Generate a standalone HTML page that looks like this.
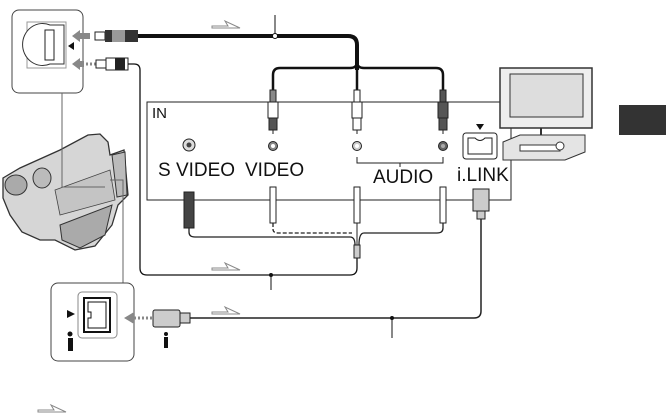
<!DOCTYPE html>
<html><head><style>
body{margin:0;background:#fff;overflow:hidden}
svg{display:block}
text{font-family:"Liberation Sans",sans-serif;fill:#111}
</style></head><body>
<svg width="666" height="413" viewBox="0 0 666 413" xmlns="http://www.w3.org/2000/svg">
<path d="M500 102 H147 V200 H511 V128" fill="none" stroke="#222" stroke-width="1"/>
<rect x="12" y="10" width="71" height="83" rx="7" fill="#fff" stroke="#444"/>
<path d="M27 22 H66 V68 H27 Z" fill="#fff" stroke="#999"/>
<path d="M50 25 A20 21 0 1 0 50 64 L64 64 L64 25 Z" fill="#fff" stroke="#333"/>
<rect x="45" y="30" width="9" height="30" fill="#fff" stroke="#222"/>
<path d="M74 42 L68 46 L74 50Z" fill="#111"/>
<path d="M72 36 L80 30 V33 H90 V39 H80 V42Z" fill="#888"/>
<path d="M72 64 L80 58 V61 H84 V67 H80 V70Z" fill="#888"/>
<path d="M86 64 H96" stroke="#888" stroke-width="3" stroke-dasharray="2,2"/>
<rect x="95" y="32" width="10" height="8" fill="#fff" stroke="#222"/>
<rect x="105" y="30" width="33" height="12" fill="#333"/>
<rect x="112" y="30" width="13" height="12" fill="#999"/>
<path d="M138 36 H348 Q357 36 357 45 V70" fill="none" stroke="#111" stroke-width="4"/>
<path d="M357 62 Q357 68 350 68 H280 Q273 68 273 75 V92" fill="none" stroke="#111" stroke-width="2.5"/>
<path d="M357 62 Q357 68 364 68 H436 Q443 68 443 75 V92" fill="none" stroke="#111" stroke-width="2.5"/>
<path d="M357 62 V92" stroke="#111" stroke-width="2.5"/>
<circle cx="275" cy="36" r="2.5" fill="#fff" stroke="#111"/>
<path d="M275 15 V34" stroke="#111"/>
<rect x="96" y="60" width="10" height="8" fill="#fff" stroke="#222"/>
<rect x="106" y="58" width="22" height="12" fill="#fff" stroke="#222"/>
<rect x="115" y="58" width="10" height="12" fill="#222"/>
<path d="M128 64 H134 Q140 64 140 70 V268 Q140 275 147 275 H350 Q357 275 357 268 V258" fill="none" stroke="#111" stroke-width="1.3"/>
<circle cx="271" cy="275" r="2" fill="#111"/><path d="M271 275 V290" stroke="#111"/>
<g stroke="#222" stroke-width="1">
<rect x="270" y="90" width="6" height="12" fill="#888"/><rect x="268" y="102" width="10" height="16" fill="#fff"/><rect x="269" y="118" width="8" height="12" fill="#555"/>
<rect x="354" y="90" width="6" height="12" fill="#fff"/><rect x="352" y="102" width="10" height="16" fill="#fff"/><rect x="353" y="118" width="8" height="12" fill="#fff"/>
<rect x="440" y="90" width="6" height="12" fill="#555"/><rect x="438" y="102" width="10" height="16" fill="#555"/><rect x="439" y="118" width="8" height="12" fill="#555"/>
</g>
<path d="M273 130 V134 M357 130 V134 M443 130 V134" stroke="#222"/>
<text x="152" y="118" font-size="15">IN</text>
<circle cx="189" cy="145" r="6" fill="#ddd" stroke="#222"/>
<circle cx="189" cy="145" r="2.5" fill="#444"/>
<circle cx="273" cy="146" r="4.5" fill="#888" stroke="#222" stroke-width="1"/><circle cx="273" cy="146" r="2" fill="#fff"/>
<circle cx="357" cy="146" r="4.5" fill="#ccc" stroke="#222" stroke-width="1"/><circle cx="357" cy="146" r="2" fill="#fff"/>
<circle cx="443" cy="146" r="4.5" fill="#666" stroke="#222" stroke-width="1"/><circle cx="443" cy="146" r="2" fill="#aaa"/>
<text x="158" y="176" font-size="19">S VIDEO</text>
<text x="245" y="176" font-size="19">VIDEO</text>
<path d="M357 157 V163 H443 V157 M400 163 V167" fill="none" stroke="#222"/>
<text x="373" y="183" font-size="19">AUDIO</text>
<text x="457" y="181" font-size="19">i.LINK</text>
<path d="M476 124 L484 124 L480 130Z" fill="#111"/>
<rect x="463" y="133" width="34" height="26" rx="3" fill="#fff" stroke="#222"/>
<path d="M468 138 H475 Q480 143 485 138 H492 V154 H468Z" fill="#fff" stroke="#222"/>
<rect x="184" y="192" width="10" height="36" fill="#444" stroke="#222"/>
<g stroke="#222" fill="#fff">
<rect x="270" y="187" width="6" height="36"/><rect x="354" y="187" width="6" height="36"/><rect x="440" y="187" width="6" height="36"/>
</g>
<rect x="473" y="189" width="16" height="22" fill="#ccc" stroke="#222"/>
<rect x="477" y="211" width="8" height="8" fill="#ccc" stroke="#222"/>
<path d="M189 228 V232 Q189 237 195 237 H350 Q355 237 355 245" fill="none" stroke="#222" stroke-width="1.3"/>
<path d="M273 223 V229 Q273 233 278 233 H352" fill="none" stroke="#222" stroke-width="1.3" stroke-dasharray="4,2"/>
<path d="M443 223 V228 Q443 233 437 233 H364 Q359 233 359 245" fill="none" stroke="#222" stroke-width="1.3"/>
<path d="M357 223 V245" stroke="#222"/>
<rect x="354" y="245" width="6" height="13" fill="#ccc" stroke="#222"/>
<path d="M481 219 V311 Q481 318 474 318 H190" fill="none" stroke="#222" stroke-width="1.5"/>
<circle cx="392" cy="318" r="2" fill="#111"/><path d="M392 318 V338" stroke="#111"/>
<rect x="500" y="68" width="92" height="60" fill="#eee" stroke="#333" stroke-width="1.5"/>
<rect x="510" y="74" width="73" height="43" fill="#ddd" stroke="#333"/>
<path d="M541 128 V135" stroke="#333" stroke-width="2"/>
<path d="M503 142 L520 135 H585 V152 L565 160 H503Z" fill="#e4e4e4" stroke="#333"/>
<rect x="520" y="145" width="40" height="6" fill="#fff" stroke="#333"/>
<circle cx="560" cy="146" r="4" fill="#fff" stroke="#333"/>
<rect x="619" y="105" width="47" height="30" fill="#333"/>
<!-- camera -->
<path d="M3 178 L20 168 L60 150 L88 135 L100 134 L108 142 L110 155 L124 150 L128 195 L118 205 L112 225 L95 246 L75 250 L55 240 L40 240 L22 232 L10 215 L3 198Z" fill="#d6d6d6" stroke="#333" stroke-width="1.3"/>
<ellipse cx="16" cy="185" rx="11" ry="10" fill="#aaa" stroke="#333"/>
<ellipse cx="42" cy="178" rx="9" ry="10" fill="#bbb" stroke="#333"/>
<path d="M55 190 L110 170 L115 200 L60 215Z" fill="#c4c4c4" stroke="#444" stroke-width="0.8"/>
<path d="M60 225 L112 205 L105 235 L80 248 L62 240Z" fill="#aaa" stroke="#333"/>
<path d="M112 155 L125 152 L127 195 L117 197Z" fill="#bbb" stroke="#333"/>
<path d="M62 93 V187 H105" fill="none" stroke="#666"/>
<path d="M110 180 H123 V283" fill="none" stroke="#666"/>
<rect x="51" y="283" width="83" height="78" rx="7" fill="#fff" stroke="#444"/>
<rect x="78" y="292" width="39" height="46" rx="4" fill="#fff" stroke="#888"/>
<rect x="84" y="298" width="26" height="34" fill="#fff" stroke="#111" stroke-width="2"/>
<path d="M88 302 H106 V328 H88 V318 H91 V312 H88Z" fill="none" stroke="#111"/>
<path d="M67 310 L75 314 L67 318Z" fill="#111"/>
<circle cx="70" cy="334" r="2.5" fill="#111"/><rect x="68" y="338" width="5" height="13" fill="#111"/>
<path d="M124 318 L134 312 V324Z" fill="#888"/><path d="M134 318 H152" stroke="#888" stroke-width="3" stroke-dasharray="2,2"/>
<rect x="153" y="310" width="27" height="17" rx="2" fill="#ccc" stroke="#222"/>
<rect x="180" y="313" width="10" height="10" fill="#ccc" stroke="#222"/>
<circle cx="166" cy="334" r="2" fill="#111"/><rect x="164" y="337" width="4" height="11" fill="#111"/>
<g fill="#fff" stroke="#888" stroke-width="1">
<path d="M212 26 H228 L225 21 L240 28 H212Z"/>
<path d="M212 268 H228 L225 263 L240 270 H212Z"/>
<path d="M212 312 H228 L225 307 L240 314 H212Z"/>
<path d="M38 410 H54 L51 405 L66 412 H38Z"/>
</g>
</svg>
</body></html>
